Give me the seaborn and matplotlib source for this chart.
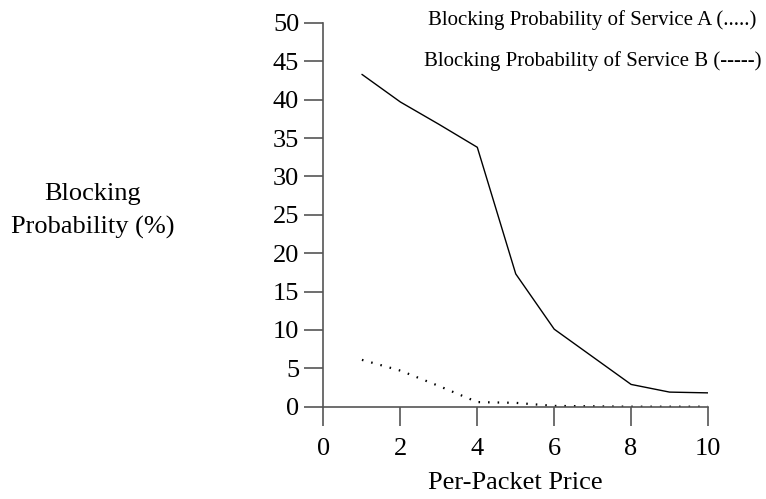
import matplotlib
matplotlib.use("Agg")
import matplotlib.pyplot as plt
import seaborn as sns
import pandas as pd

# Per-packet price levels and blocking probabilities (%)
price = [1, 2, 3, 4, 5, 6, 7, 8, 9, 10]
blocking_a = [6.1, 4.7, 2.7, 0.6, 0.5, 0.1, 0.05, 0.0, 0.0, 0.0]
blocking_b = [43.3, 39.7, 36.8, 33.8, 17.3, 10.1, 6.5, 2.9, 1.9, 1.8]

x_ticks = [0, 2, 4, 6, 8, 10]
y_ticks = [0, 5, 10, 15, 20, 25, 30, 35, 40, 45, 50]

sns.set_style("ticks")
plt.rcParams["font.family"] = ["Liberation Serif", "DejaVu Serif"]
plt.rcParams["text.color"] = "black"
plt.rcParams["axes.labelcolor"] = "black"

df = pd.DataFrame({"price": price, "A": blocking_a, "B": blocking_b})

fig = plt.figure(figsize=(7.66, 4.99), dpi=100)
ax = fig.add_axes([0.4223, 0.185, 0.502, 0.769])

sns.lineplot(data=df, x="price", y="B", ax=ax, color="black", linewidth=1.0)
sns.lineplot(data=df, x="price", y="A", ax=ax, color="black", linewidth=1.6,
             linestyle=(0, (0.7, 3.6)))

ax.set_xlim(0, 10)
ax.set_ylim(0, 50)
ax.set_xticks(x_ticks)
ax.set_yticks(y_ticks)
ax.tick_params(axis="both", direction="out", length=13.5, width=1.2,
               color="#555555", labelsize=19, labelcolor="black")
ax.tick_params(axis="y", pad=4)
ax.tick_params(axis="x", pad=9)
for side in ("top", "right"):
    ax.spines[side].set_visible(False)
for side in ("left", "bottom"):
    ax.spines[side].set_color("#555555")
    ax.spines[side].set_linewidth(1.2)

ax.set_xlabel("Per-Packet Price", fontsize=19, labelpad=9)
ax.set_ylabel("")

fig.text(93 / 766, 1 - 211 / 499, "Blocking\nProbability (%)", ha="center",
         va="center", fontsize=19, linespacing=1.6)

fig.text(592 / 766, 1 - 20 / 499, "Blocking Probability of Service A (.....)",
         ha="center", va="center", fontsize=15)
fig.text(593 / 766, 1 - 61 / 499, "Blocking Probability of Service B (-----)",
         ha="center", va="center", fontsize=15)

fig.savefig("out.png", dpi=100)
